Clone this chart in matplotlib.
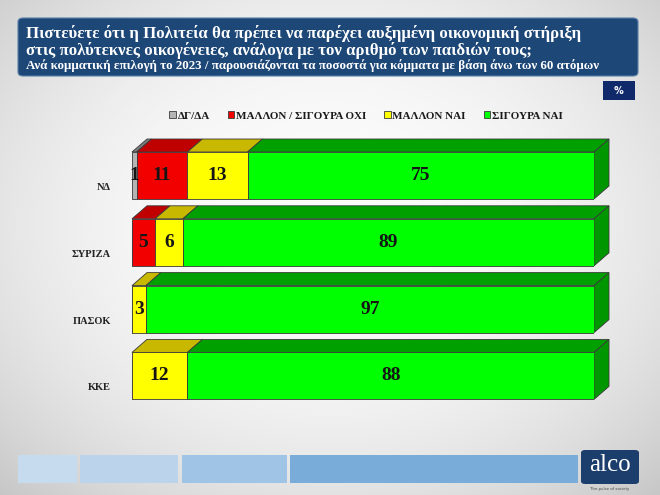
import numpy as np
import matplotlib
matplotlib.use("Agg")
import matplotlib.pyplot as plt
from matplotlib.patches import Polygon, Rectangle, FancyBboxPatch

# ---------------- data ----------------
parties = ["ΝΔ", "ΣΥΡΙΖΑ", "ΠΑΣΟΚ", "ΚΚΕ"]
series_names = ["ΔΓ/ΔΑ", "ΜΑΛΛΟΝ / ΣΙΓΟΥΡΑ ΟΧΙ", "ΜΑΛΛΟΝ ΝΑΙ", "ΣΙΓΟΥΡΑ ΝΑΙ"]
dk_na = [1, 0, 0, 0]
no = [11, 5, 0, 0]
rather_yes = [13, 6, 3, 12]
surely_yes = [75, 89, 97, 88]

title_1 = "Πιστεύετε ότι η Πολιτεία θα πρέπει να παρέχει αυξημένη οικονομική στήριξη"
title_2 = "στις πολύτεκνες οικογένειες, ανάλογα με τον αριθμό των παιδιών τους;"
subtitle = "Ανά κομματική επιλογή το 2023 / παρουσιάζονται τα ποσοστά για κόμματα με βάση άνω των 60 ατόμων"

# ---------------- style ----------------
front_cols = ["#b4b4b4", "#f20000", "#ffff00", "#00ff00"]
top_cols = ["#7a7a7a", "#c00000", "#c8b800", "#00a000"]
side_col = "#009600"
edge = "#3a3a3a"
SERIF = ["Liberation Serif", "DejaVu Serif"]

W, H = 660, 495
fig = plt.figure(figsize=(W / 100, H / 100), dpi=100)


def fx(px):
    return px / W


def fy(py):
    return 1 - py / H


# background gradient
bg = fig.add_axes([0, 0, 1, 1], zorder=-10)
yy, xx = np.mgrid[0:H, 0:W]
r = np.sqrt(((xx - W * 0.5) / (W * 0.62)) ** 2 + ((yy - H * 0.45) / (H * 0.65)) ** 2)
g = np.clip(0.99 - 0.15 * r ** 2.2, 0.78, 1)
bg.imshow(np.dstack([g, g, g]), extent=[0, 1, 0, 1], aspect="auto")
bg.set_xlim(0, 1)
bg.set_ylim(0, 1)
bg.axis("off")

# header
hdr = FancyBboxPatch((fx(18), fy(76)), fx(638) - fx(18), fy(18) - fy(76),
                     boxstyle="round,pad=0,rounding_size=0.008",
                     transform=fig.transFigure, facecolor="#1d4777",
                     edgecolor="#5a7fa8", linewidth=0.8)
fig.patches.append(hdr)
fig.text(fx(26), fy(33), title_1, color="white", fontsize=12.1, fontweight="bold",
         family=SERIF, va="center", ha="left")
fig.text(fx(26), fy(50.5), title_2, color="white", fontsize=12.1, fontweight="bold",
         family=SERIF, va="center", ha="left")
fig.text(fx(26), fy(65.5), subtitle, color="white", fontsize=9.4, fontweight="bold",
         family=SERIF, va="center", ha="left")

# % box
fig.patches.append(Rectangle((fx(603), fy(100)), fx(635) - fx(603), fy(81) - fy(100),
                             transform=fig.transFigure, facecolor="#10296b",
                             edgecolor="none"))
fig.text(fx(619), fy(90.5), "%", color="white", fontsize=7, fontweight="bold",
         ha="center", va="center", family=["DejaVu Sans"])

# main axes: x 0..100 maps to pixels 132..594
ax_left, ax_right, ax_top, ax_bot = 132, 594, 130, 410
ax = fig.add_axes([fx(ax_left), fy(ax_bot), fx(ax_right) - fx(ax_left), fy(ax_top) - fy(ax_bot)])
ax.patch.set_alpha(0)
ax.axis("off")
c0, step = 175.5, 66.8
ax.set_xlim(0, 100)
ax.set_ylim((ax_bot - c0) / step, (ax_top - c0) / step)

px_per_x = (ax_right - ax_left) / 100.0
dx = 15 / px_per_x
dy = 13 / step
bh = 47 / step

ypos = np.arange(len(parties))
series = [dk_na, no, rather_yes, surely_yes]
left = np.zeros(len(parties))
handles = []
for s, vals in enumerate(series):
    vals = np.array(vals, dtype=float)
    bars = ax.barh(ypos, vals, left=left, height=bh, color=front_cols[s],
                   edgecolor=edge, linewidth=0.6, label=series_names[s], zorder=3)
    handles.append(bars)
    for i, v in enumerate(vals):
        if v <= 0:
            continue
        x0, x1 = left[i], left[i] + v
        ytop = ypos[i] - bh / 2
        top = Polygon([(x0, ytop), (x1, ytop), (x1 + dx, ytop - dy), (x0 + dx, ytop - dy)],
                      closed=True, facecolor=top_cols[s], edgecolor=edge,
                      linewidth=0.6, zorder=2, clip_on=False)
        ax.add_patch(top)
        ax.text((x0 + x1) / 2, ypos[i], f"{int(v)}", ha="center", va="center",
                fontsize=14, fontweight="bold", family=SERIF, color="#151515", zorder=5)
    left = left + vals

# right side faces
for i in ypos:
    x1 = left[i]
    ytop = i - bh / 2
    ybot = i + bh / 2
    side = Polygon([(x1, ytop), (x1 + dx, ytop - dy), (x1 + dx, ybot - dy), (x1, ybot)],
                   closed=True, facecolor=side_col, edgecolor=edge, linewidth=0.6,
                   zorder=2, clip_on=False)
    ax.add_patch(side)

# category labels
lab_x = (111 - ax_left) / (ax_right - ax_left)
for i, p in enumerate(parties):
    ax.text(lab_x, i + 12 / step, p, transform=ax.get_yaxis_transform(),
            ha="right", va="center", fontsize=7.5, fontweight="bold",
            family=SERIF, color="#222222")

# legend
leg = fig.legend(handles=handles, labels=series_names, loc="center",
                 bbox_to_anchor=(fx(366), fy(116)), ncol=4, frameon=False,
                 prop={"family": SERIF, "weight": "bold", "size": 8},
                 handlelength=0.6, handleheight=0.6, handletextpad=0.15,
                 columnspacing=1.6, borderaxespad=0)
for t in leg.get_texts():
    t.set_color("#1a1a1a")

# footer
foot = [(18, 77, "#c7dbee"), (80, 178, "#bbd3eb"), (182, 287, "#9fc4e5"), (290, 578, "#79acd9")]
for a, b, c in foot:
    fig.patches.append(Rectangle((fx(a), fy(483)), fx(b) - fx(a), fy(455) - fy(483),
                                 transform=fig.transFigure, facecolor=c, edgecolor="none"))
fig.patches.append(FancyBboxPatch((fx(581), fy(484)), fx(639) - fx(581), fy(450) - fy(484),
                                  boxstyle="round,pad=0,rounding_size=0.006",
                                  transform=fig.transFigure, facecolor="#1b3e6d",
                                  edgecolor="none"))
fig.text(fx(610), fy(465), "alco", color="white", fontsize=18, family=SERIF,
         ha="center", va="center")
fig.text(fx(610), fy(489), "The pulse of society", color="#444444", fontsize=2.8,
         family=["DejaVu Sans"], ha="center", va="center")

fig.savefig("out.png", dpi=100)
